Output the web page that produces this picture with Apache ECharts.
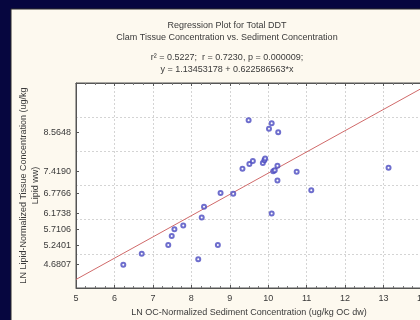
<!DOCTYPE html>
<html>
<head>
<meta charset="utf-8">
<script src="https://cdn.jsdelivr.net/npm/echarts@6/dist/echarts.min.js"></script>
<style>
  html, body { margin: 0; padding: 0; background: #06063f; }
  #chart { width: 420px; height: 320px; }
</style>
</head>
<body>
<div id="chart"></div>
<script>
// ---- data ----
const titleLines = ['Regression Plot for Total DDT', 'Clam Tissue Concentration vs. Sediment Concentration'];
const statLines = ['r\u00b2 = 0.5227;  r = 0.7230, p = 0.000009;', 'y = 1.13453178 + 0.622586563*x'];
const xAxisTitle = 'LN OC-Normalized Sediment Concentration (ug/kg OC dw)';
const yAxisTitle = 'LN Lipid-Normalized Tissue Concentration (ug/kg\nLipid ww)';
const yTickLabels = [4.6807, 5.2401, 5.7106, 6.1738, 6.7766, 7.4190, 8.5648];
const sedimentX = [6.23, 6.71, 7.40, 7.49, 7.56, 7.79, 8.18, 8.27, 8.33, 8.69,
                   8.76, 9.09, 9.33, 9.49, 9.51, 9.60, 9.86, 9.90, 9.92, 10.02,
                   10.09, 10.26, 10.13, 10.17, 10.24, 10.24, 10.74, 10.09, 11.12, 13.13];
const tissueY  = [4.68, 5.00, 5.26, 5.52, 5.72, 5.83, 4.84, 6.06, 6.38, 5.26,
                  6.78, 6.76, 7.49, 8.91, 7.63, 7.72, 7.66, 7.74, 7.79, 8.66,
                  8.82, 8.56, 7.42, 7.45, 7.58, 7.15, 7.40, 6.18, 6.86, 7.52];
const regLineX = [5, 14];
const regLineY = [4.25, 9.85];

const points = sedimentX.map((x, i) => [x, tissueY[i]]);
const regLine = regLineX.map((x, i) => [x, regLineY[i]]);

const txt = '#3a3a3a';
const font = 'Liberation Sans';

const chart = echarts.init(document.getElementById('chart'));
chart.setOption({
  backgroundColor: '#06063f',
  animation: false,
  graphic: [{
    type: 'rect', z: -10, silent: true,
    shape: { x: 11, y: 9, width: 430, height: 330 },
    style: { fill: '#fdf9ef', stroke: '#2a2a2a', lineWidth: 1 }
  }],
  title: [{
    text: titleLines.join('\n'),
    left: 222, top: 15, textAlign: 'center',
    textStyle: { fontFamily: font, fontSize: 9, fontWeight: 'normal', color: txt, lineHeight: 12 }
  }, {
    text: statLines.join('\n'),
    left: 222, top: 47, textAlign: 'center',
    textStyle: { fontFamily: font, fontSize: 9, fontWeight: 'normal', color: txt, lineHeight: 12 }
  }],
  grid: {
    left: 76, top: 83, right: -2, bottom: 32,
    outerBoundsMode: 'none', containLabel: false,
    show: true, backgroundColor: '#ffffff', borderColor: '#555', borderWidth: 1
  },
  xAxis: [{
    type: 'value', min: 5, max: 14, interval: 1, position: 'bottom',
    name: xAxisTitle, nameLocation: 'middle', nameGap: 19,
    nameTextStyle: { fontFamily: font, fontSize: 9, color: txt },
    axisLine: { show: true, lineStyle: { color: '#555' } },
    axisTick: { show: true, inside: true, length: 3, lineStyle: { color: '#555' } },
    minorTick: { show: true, splitNumber: 4, length: 2, lineStyle: { color: '#777' } },
    axisLabel: { fontFamily: font, fontSize: 9, color: txt, margin: 6 },
    splitLine: { show: true, lineStyle: { color: '#d4d4d4', type: [2, 2] } }
  }, {
    type: 'value', min: 5, max: 14, interval: 1, position: 'top',
    axisLine: { show: true, lineStyle: { color: '#555' } },
    axisTick: { show: true, inside: true, length: 3, lineStyle: { color: '#555' } },
    minorTick: { show: true, splitNumber: 4, length: 2, lineStyle: { color: '#777' } },
    axisLabel: { show: false },
    splitLine: { show: false }
  }],
  yAxis: [{
    type: 'value', min: 4, max: 10, interval: 1, position: 'left',
    name: yAxisTitle, nameLocation: 'middle', nameGap: 34, nameRotate: 90,
    nameTextStyle: { fontFamily: font, fontSize: 9, color: txt, lineHeight: 12 },
    axisLine: { show: true, lineStyle: { color: '#555' } },
    axisTick: { show: false },
    axisLabel: { show: false },
    splitLine: { show: true, lineStyle: { color: '#d4d4d4', type: [2, 2] } }
  }, {
    type: 'value', min: 4, max: 10, position: 'left',
    axisLine: { show: false },
    axisTick: { show: true, inside: true, length: 3, customValues: yTickLabels, lineStyle: { color: '#555' } },
    axisLabel: {
      fontFamily: font, fontSize: 9, color: txt, margin: 5,
      customValues: yTickLabels,
      formatter: v => v.toFixed(4)
    },
    splitLine: { show: false }
  }],
  series: [{
    type: 'line', data: regLine, xAxisIndex: 0, yAxisIndex: 0,
    symbol: 'none', lineStyle: { color: '#d06a6a', width: 1 }, z: 2
  }, {
    type: 'scatter', data: points, xAxisIndex: 0, yAxisIndex: 0,
    symbol: 'emptyCircle', symbolSize: 4,
    itemStyle: { color: '#4a4ac0', borderColor: '#4a4ac0', borderWidth: 1 }, z: 3
  }]
});
</script>
</body>
</html>
